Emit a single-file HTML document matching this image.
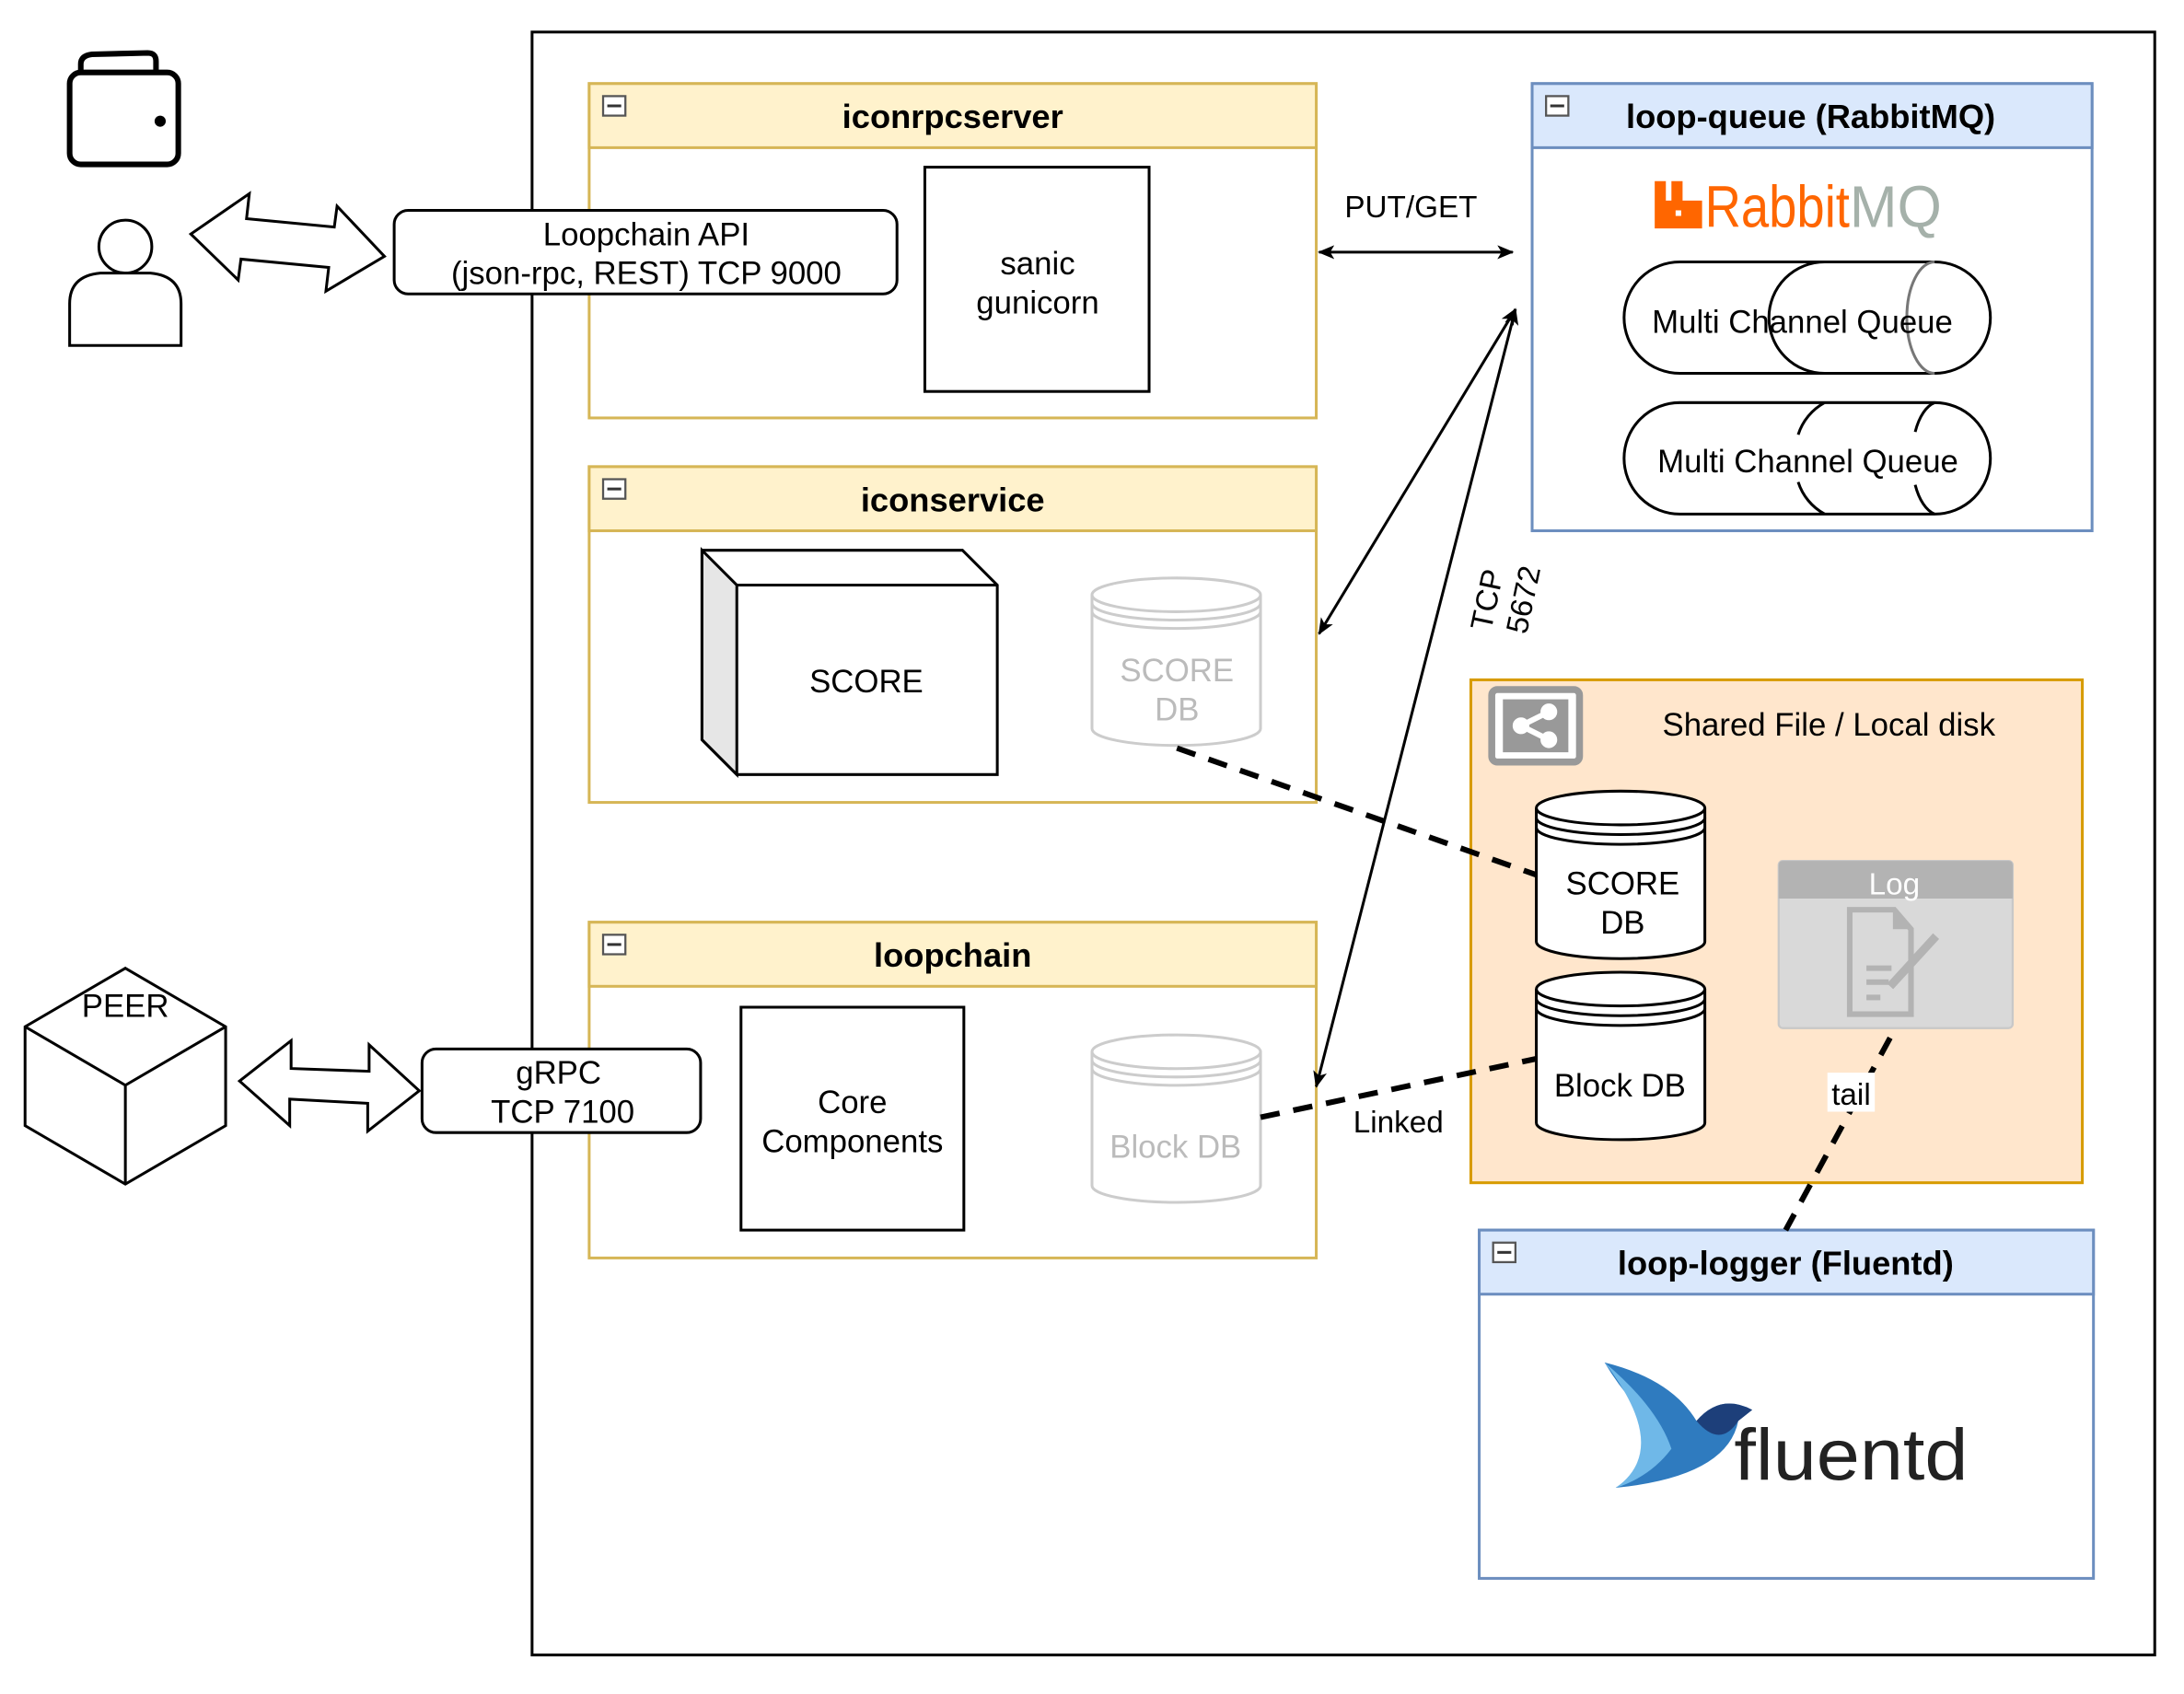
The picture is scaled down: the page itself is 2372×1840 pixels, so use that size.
<!DOCTYPE html>
<html><head><meta charset="utf-8"><style>html,body{margin:0;padding:0;background:#fff}svg{display:block}text{font-family:"Liberation Sans",Arial,sans-serif}</style></head>
<body>
<svg width="2372" height="1840" viewBox="0 0 1568 1216" preserveAspectRatio="none" xmlns="http://www.w3.org/2000/svg">
<defs>
<marker id="ah" markerWidth="12" markerHeight="10" refX="11" refY="5" orient="auto-start-reverse" markerUnits="userSpaceOnUse"><path d="M0,0 L12,5 L0,10 L3,5 Z" fill="#000"/></marker>
</defs>
<rect x="0" y="0" width="1568" height="1216" fill="#fff"/>
<rect x="382" y="23" width="1165" height="1165" fill="none" stroke="#000" stroke-width="2"/>

<!-- wallet -->
<rect x="50" y="52" width="78" height="66" rx="8" fill="none" stroke="#000" stroke-width="4"/>
<path d="M58,52 L58,46 Q58,40 66,39 L106,38 Q112,38 112,44 L112,52" fill="none" stroke="#000" stroke-width="4"/>
<circle cx="115" cy="87" r="4" fill="#000"/>
<!-- user -->
<circle cx="90" cy="177" r="19" fill="#fff" stroke="#000" stroke-width="2"/>
<path d="M50,248 L50,218 Q50,198 72,196 L108,196 Q130,198 130,218 L130,248 Z" fill="#fff" stroke="#000" stroke-width="2"/>

<!-- user double arrow -->
<path d="M137,168 L179,139 L177,157 L240,163 L242,148 L276,184 L234,209 L236,192 L173,186 L171,201 Z" fill="#fff" stroke="#000" stroke-width="2"/>

<!-- iconrpcserver -->
<rect x="423" y="60" width="522" height="240" fill="#fff" stroke="#d6b656" stroke-width="2"/>
<rect x="423" y="60" width="522" height="46" fill="#fff2cc" stroke="#d6b656" stroke-width="2"/>
<rect x="433" y="69" width="16" height="14" fill="#fff" stroke="#555" stroke-width="1.5"/><line x1="436" y1="76" x2="446" y2="76" stroke="#333" stroke-width="2"/>
<text x="684" y="92" font-size="24" font-weight="bold" text-anchor="middle">iconrpcserver</text>
<rect x="664" y="120" width="161" height="161" fill="#fff" stroke="#000" stroke-width="2"/>
<text x="745" y="197" font-size="23" text-anchor="middle">sanic</text>
<text x="745" y="225" font-size="23" text-anchor="middle">gunicorn</text>
<rect x="283" y="151" width="361" height="60" rx="10" fill="#fff" stroke="#000" stroke-width="2"/>
<text x="464" y="176" font-size="23" text-anchor="middle">Loopchain API</text>
<text x="464" y="204" font-size="23" text-anchor="middle">(json-rpc, REST) TCP 9000</text>

<!-- loop-queue -->
<rect x="1100" y="60" width="402" height="321" fill="#fff" stroke="#6c8ebf" stroke-width="2"/>
<rect x="1100" y="60" width="402" height="46" fill="#dae8fc" stroke="#6c8ebf" stroke-width="2"/>
<rect x="1110" y="69" width="16" height="14" fill="#fff" stroke="#555" stroke-width="1.5"/><line x1="1113" y1="76" x2="1123" y2="76" stroke="#333" stroke-width="2"/>
<text x="1300" y="92" font-size="24" font-weight="bold" text-anchor="middle">loop-queue (RabbitMQ)</text>
<path d="M1188,130 h8 v14 h4 v-14 h8 v14 h14 v20 h-34 Z" fill="#f60"/>
<rect x="1203" y="151" width="4" height="4" fill="#fff"/>
<text x="1224" y="163" font-size="42" fill="#f60" textLength="104" lengthAdjust="spacingAndGlyphs">Rabbit</text>
<text x="1328" y="163" font-size="42" fill="#a5b1aa" textLength="66" lengthAdjust="spacingAndGlyphs">MQ</text>
<!-- queues -->
<g fill="none" stroke="#000" stroke-width="2">
<path d="M1206,188 L1389,188 A40,40 0 0 1 1389,268 L1206,268 A40,40 0 0 1 1206,188 Z" fill="#fff"/>
<path d="M1310,188 A40,40 0 0 0 1310,268"/>
<path d="M1389,188 A20,40 0 0 0 1389,268" stroke="#777"/>
<path d="M1206,289 L1389,289 A40,40 0 0 1 1389,369 L1206,369 A40,40 0 0 1 1206,289 Z" fill="#fff"/>
<path d="M1310,289 A40,40 0 0 0 1291,312 M1291,346 A40,40 0 0 0 1310,369"/>
<path d="M1389,289 A20,40 0 0 0 1375,310 M1375,348 A20,40 0 0 0 1389,369"/>
</g>
<text x="1294" y="239" font-size="23" text-anchor="middle">Multi Channel Queue</text>
<text x="1298" y="339" font-size="23" text-anchor="middle">Multi Channel Queue</text>

<!-- iconservice -->
<rect x="423" y="335" width="522" height="241" fill="#fff" stroke="#d6b656" stroke-width="2"/>
<rect x="423" y="335" width="522" height="46" fill="#fff2cc" stroke="#d6b656" stroke-width="2"/>
<rect x="433" y="344" width="16" height="14" fill="#fff" stroke="#555" stroke-width="1.5"/><line x1="436" y1="351" x2="446" y2="351" stroke="#333" stroke-width="2"/>
<text x="684" y="367" font-size="24" font-weight="bold" text-anchor="middle">iconservice</text>
<path d="M504,395 L691,395 L716,420 L716,556 L529,556 L504,531 Z" fill="#fff" stroke="#000" stroke-width="2"/>
<path d="M504,395 L529,420 L529,556 L504,531 Z" fill="#e6e6e6" stroke="#000" stroke-width="2"/>
<path d="M529,420 L716,420" stroke="#000" stroke-width="2"/>
<text x="622" y="497" font-size="23" text-anchor="middle">SCORE</text>
<g fill="#fff" stroke="#ccc" stroke-width="2">
<path d="M784,427 A60,12 0 0 1 905,427 L905,523 A60,12 0 0 1 784,523 Z"/>
<path d="M784,427 A60,12 0 0 0 905,427 M784,433 A60,12 0 0 0 905,433 M784,439 A60,12 0 0 0 905,439" fill="none"/>
</g>
<text x="845" y="489" font-size="23" fill="#bbb" text-anchor="middle">SCORE</text>
<text x="845" y="517" font-size="23" fill="#bbb" text-anchor="middle">DB</text>

<!-- loopchain -->
<rect x="423" y="662" width="522" height="241" fill="#fff" stroke="#d6b656" stroke-width="2"/>
<rect x="423" y="662" width="522" height="46" fill="#fff2cc" stroke="#d6b656" stroke-width="2"/>
<rect x="433" y="671" width="16" height="14" fill="#fff" stroke="#555" stroke-width="1.5"/><line x1="436" y1="678" x2="446" y2="678" stroke="#333" stroke-width="2"/>
<text x="684" y="694" font-size="24" font-weight="bold" text-anchor="middle">loopchain</text>
<rect x="532" y="723" width="160" height="160" fill="#fff" stroke="#000" stroke-width="2"/>
<text x="612" y="799" font-size="23" text-anchor="middle">Core</text>
<text x="612" y="827" font-size="23" text-anchor="middle">Components</text>
<g fill="#fff" stroke="#ccc" stroke-width="2">
<path d="M784,755 A60,12 0 0 1 905,755 L905,851 A60,12 0 0 1 784,851 Z"/>
<path d="M784,755 A60,12 0 0 0 905,755 M784,761 A60,12 0 0 0 905,761 M784,767 A60,12 0 0 0 905,767" fill="none"/>
</g>
<text x="844" y="831" font-size="23" fill="#bbb" text-anchor="middle">Block DB</text>

<!-- PEER -->
<path d="M90,695 L162,737 L162,808 L90,850 L18,808 L18,737 Z" fill="#fff" stroke="#000" stroke-width="2"/>
<path d="M18,737 L90,779 L162,737 M90,779 L90,850" fill="none" stroke="#000" stroke-width="2"/>
<text x="90" y="730" font-size="23" text-anchor="middle">PEER</text>
<path d="M172,776 L209,747 L209,767 L265,769 L265,750 L301,783 L264,812 L264,792 L208,789 L208,808 Z" fill="#fff" stroke="#000" stroke-width="2"/>
<rect x="303" y="753" width="200" height="60" rx="10" fill="#fff" stroke="#000" stroke-width="2"/>
<text x="401" y="778" font-size="23" text-anchor="middle">gRPC</text>
<text x="404" y="806" font-size="23" text-anchor="middle">TCP 7100</text>

<!-- shared -->
<rect x="1056" y="488" width="439" height="361" fill="#ffe6cc" stroke="#d79b00" stroke-width="2"/>
<rect x="1071" y="495" width="63" height="52" rx="4" fill="#fff" stroke="#999" stroke-width="5"/>
<rect x="1079" y="502" width="47" height="38" fill="#999"/>
<g stroke="#fff" stroke-width="4" fill="#fff"><line x1="1092" y1="521" x2="1112" y2="511"/><line x1="1092" y1="521" x2="1112" y2="531"/><circle cx="1092" cy="521" r="4"/><circle cx="1112" cy="511" r="4"/><circle cx="1112" cy="531" r="4"/></g>
<text x="1313" y="528" font-size="23" text-anchor="middle">Shared File / Local disk</text>
<g fill="#fff" stroke="#000" stroke-width="2">
<path d="M1103,580 A60,12 0 0 1 1224,580 L1224,676 A60,12 0 0 1 1103,676 Z"/>
<path d="M1103,580 A60,12 0 0 0 1224,580 M1103,587 A60,12 0 0 0 1224,587 M1103,594 A60,12 0 0 0 1224,594" fill="none"/>
<path d="M1103,710 A60,12 0 0 1 1224,710 L1224,806 A60,12 0 0 1 1103,806 Z"/>
<path d="M1103,710 A60,12 0 0 0 1224,710 M1103,717 A60,12 0 0 0 1224,717 M1103,724 A60,12 0 0 0 1224,724" fill="none"/>
</g>
<text x="1165" y="642" font-size="23" text-anchor="middle">SCORE</text>
<text x="1165" y="670" font-size="23" text-anchor="middle">DB</text>
<text x="1163" y="787" font-size="23" text-anchor="middle">Block DB</text>
<rect x="1277" y="618" width="168" height="120" rx="3" fill="#d9d9d9" stroke="#c8c8c8" stroke-width="1.5"/>
<path d="M1277,645 L1277,621 Q1277,618 1280,618 L1442,618 Q1445,618 1445,621 L1445,645 Z" fill="#b3b3b3"/>
<text x="1360" y="642" font-size="22" fill="#fff" text-anchor="middle">Log</text>
<path d="M1328,653 L1360,653 L1372,667 L1372,728 L1328,728 Z" fill="none" stroke="#b3b3b3" stroke-width="4"/>
<path d="M1359,654 L1359,667 L1372,667 Z" fill="#b3b3b3"/>
<g stroke="#b3b3b3" stroke-width="4"><line x1="1340" y1="695" x2="1358" y2="695"/><line x1="1340" y1="705" x2="1356" y2="705"/><line x1="1340" y1="716" x2="1350" y2="716"/><line x1="1357" y1="708" x2="1390" y2="672" stroke-width="6"/></g>

<!-- loop-logger -->
<rect x="1062" y="883" width="441" height="250" fill="#fff" stroke="#6c8ebf" stroke-width="2"/>
<rect x="1062" y="883" width="441" height="46" fill="#dae8fc" stroke="#6c8ebf" stroke-width="2"/>
<rect x="1072" y="892" width="16" height="14" fill="#fff" stroke="#555" stroke-width="1.5"/><line x1="1075" y1="899" x2="1085" y2="899" stroke="#333" stroke-width="2"/>
<text x="1282" y="915" font-size="24" font-weight="bold" text-anchor="middle">loop-logger (Fluentd)</text>
<path d="M1152,978 Q1200,990 1218,1020 Q1235,1000 1258,1012 L1248,1020 Q1240,1060 1160,1068 Q1200,1040 1185,1020 Q1165,1000 1152,978 Z" fill="#2f7bbf"/>
<path d="M1152,978 Q1190,1010 1200,1040 Q1185,1060 1160,1068 Q1200,1040 1152,978 Z" fill="#6fb8e8"/>
<path d="M1218,1020 Q1235,1000 1258,1012 L1248,1020 Q1235,1040 1218,1020Z" fill="#1d3f7a"/>
<text x="1245" y="1062" font-size="52" fill="#222" textLength="168" lengthAdjust="spacingAndGlyphs">fluentd</text>

<!-- connectors -->
<g stroke="#000" stroke-width="2" fill="none">
<line x1="947" y1="181" x2="1086" y2="181" marker-start="url(#ah)" marker-end="url(#ah)"/>
<line x1="947" y1="455" x2="1088" y2="222" marker-start="url(#ah)" marker-end="url(#ah)"/>
<line x1="945" y1="780" x2="1088" y2="222" marker-start="url(#ah)" marker-end="url(#ah)"/>
</g>
<g stroke="#000" stroke-width="4" fill="none" stroke-dasharray="14,10">
<line x1="845" y1="537" x2="1103" y2="628"/>
<line x1="905" y1="802" x2="1103" y2="760"/>
<line x1="1357" y1="745" x2="1282" y2="883"/>
</g>
<text x="1013" y="156" font-size="22" text-anchor="middle">PUT/GET</text>
<text transform="translate(1075,432) rotate(-78)" font-size="22" text-anchor="middle">TCP</text>
<text transform="translate(1101,432) rotate(-78)" font-size="22" text-anchor="middle">5672</text>
<rect x="968" y="790" width="72" height="26" fill="#fff"/>
<text x="1004" y="813" font-size="22" text-anchor="middle">Linked</text>
<rect x="1312" y="770" width="34" height="28" fill="#fff"/>
<text x="1329" y="793" font-size="22" text-anchor="middle">tail</text>
</svg>
</body></html>
